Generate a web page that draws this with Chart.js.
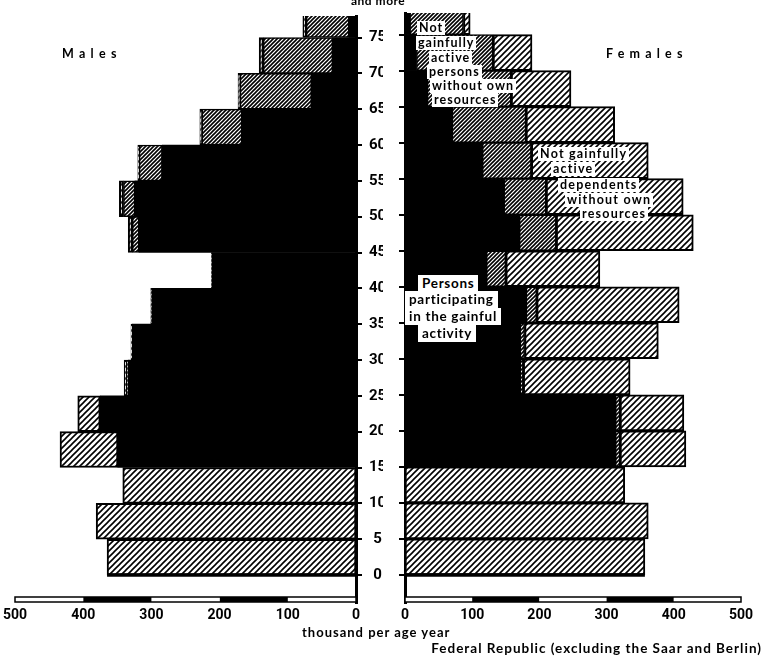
<!DOCTYPE html>
<html>
<head>
<meta charset="utf-8">
<script src="https://cdn.jsdelivr.net/npm/chart.js@4.4.0/dist/chart.umd.min.js"></script>
<style>
body{margin:0;background:#fff;width:766px;height:663px;overflow:hidden;position:relative;
  font-family:Lato,"DejaVu Sans",sans-serif;font-weight:700;color:#000}
#wrapL{position:absolute;left:0;top:0;width:383px;height:663px}
#wrapR{position:absolute;left:383px;top:0;width:383px;height:663px}
.t{position:absolute;white-space:nowrap;line-height:14px}
.w{background:#fff;padding:0 2px}
.a1{font-size:12.5px;letter-spacing:1px}
.a2{font-size:12.5px;letter-spacing:1.2px}
.a3{font-size:13.5px;line-height:17px;letter-spacing:0.7px}
</style>
</head>
<body>
<div id="wrapL"><canvas id="male" width="383" height="663"></canvas></div>
<div id="wrapR"><canvas id="female" width="383" height="663"></canvas></div>

<div class="t" style="left:351px;top:-6px;font-size:12px;letter-spacing:0.5px">and more</div>
<div class="t" style="left:62px;top:47px;font-size:12.5px;letter-spacing:5.3px">Males</div>
<div class="t" style="left:606px;top:47px;font-size:12.5px;letter-spacing:5.2px">Females</div>

<div class="t a1 w" style="left:417px;top:21px">Not</div>
<div class="t a1 w" style="left:416px;top:36px">gainfully</div>
<div class="t a1 w" style="left:429px;top:51px">active</div>
<div class="t a1 w" style="left:427px;top:65px">persons</div>
<div class="t a1 w" style="left:430px;top:79px">without own</div>
<div class="t a1 w" style="left:432px;top:93px">resources</div>

<div class="t a2 w" style="left:538px;top:147px">Not gainfully</div>
<div class="t a2 w" style="left:551px;top:162px">active</div>
<div class="t a2 w" style="left:558px;top:178px">dependents</div>
<div class="t a2 w" style="left:565px;top:193px">without own</div>
<div class="t a2 w" style="left:580px;top:207px">resources</div>

<div class="t a3 w" style="left:418px;top:275px;padding:0 4px">Persons</div>
<div class="t a3 w" style="left:405px;top:291px;padding:0 4px">participating</div>
<div class="t a3 w" style="left:405px;top:308px;padding:0 4px">in the gainful</div>
<div class="t a3 w" style="left:418px;top:325px;padding:0 4px">activity</div>

<div class="t" style="left:302px;top:625px;font-size:13px;letter-spacing:1px">thousand per age year</div>
<div class="t" style="right:4px;top:641px;font-size:13.5px;letter-spacing:1px">Federal Republic (excluding the Saar and Berlin)</div>

<script>
// age groups (5-year groups, values in thousand per age year)
var ageGroups = ['0-4', '5-9', '10-14', '15-19', '20-24', '25-29', '30-34', '35-39',
                 '40-44', '45-49', '50-54', '55-59', '60-64', '65-69', '70-74', '75+'];
var ageMid = [2.5, 7.5, 12.5, 17.5, 22.5, 27.5, 32.5, 37.5, 42.5, 47.5, 52.5, 57.5, 62.5, 67.5, 72.5, 77.5];
var ageTicks = [0, 5, 10, 15, 20, 25, 30, 35, 40, 45, 50, 55, 60, 65, 70, 75];
var valueTicks = [0, 100, 200, 300, 400, 500];

// Males
var maleWorking    = [0, 0, 0, 349, 375, 334, 328, 299, 211, 318, 324, 284, 167, 65, 34, 10];
var maleOwnMeans   = [0, 0, 0, 0, 0, 2, 0, 1, 1, 10, 17, 34, 59, 105, 102, 63];
var maleDependents = [365, 381, 342, 85, 33, 4, 2, 1, 0, 6, 6, 2, 3, 3, 6, 5];

// Females
var femaleWorking    = [0, 0, 0, 313, 313, 171, 171, 180, 121, 170, 147, 115, 70, 33, 17, 7];
var femaleOwnMeans   = [0, 0, 0, 7, 7, 5, 7, 16, 29, 55, 63, 73, 110, 125, 114, 80];
var femaleDependents = [357, 362, 327, 98, 95, 159, 199, 212, 140, 204, 204, 174, 132, 89, 58, 10];

function hatch(size, lw) {
  var c = document.createElement('canvas');
  c.width = size; c.height = size;
  var g = c.getContext('2d');
  g.fillStyle = '#fff';
  g.fillRect(0, 0, size, size);
  g.strokeStyle = '#000';
  g.lineWidth = lw;
  g.beginPath();
  g.moveTo(-1, size + 1); g.lineTo(size + 1, -1);
  g.moveTo(-1, 1); g.lineTo(1, -1);
  g.moveTo(size - 1, size + 1); g.lineTo(size + 1, size - 1);
  g.stroke();
  return g.createPattern(c, 'repeat');
}
var lightHatch = hatch(6, 1.6);
var denseHatch = hatch(4, 1.6);

function layers(work, own, dep) {
  var a = [], b = [], c = [];
  for (var i = 0; i < ageMid.length; i++) {
    var w = work[i], o = w + own[i], d = o + dep[i];
    a.push({ x: [0, w], y: ageMid[i] });
    b.push({ x: [w, o], y: ageMid[i] });
    c.push({ x: [o, d], y: ageMid[i] });
  }
  return [
    { label: 'Persons participating in the gainful activity', data: a,
      backgroundColor: '#000', borderWidth: 0 },
    { label: 'Not gainfully active persons with own resources', data: b,
      backgroundColor: denseHatch, borderColor: '#000', borderWidth: 1.5 },
    { label: 'Not gainfully active dependents without own resources', data: c,
      backgroundColor: lightHatch, borderColor: '#000', borderWidth: 2 }
  ];
}

// checkered scale bar along the bottom, heavy base line under age 0
var scaleBar = {
  id: 'scaleBar',
  afterDraw: function (chart) {
    var ctx = chart.ctx, xs = chart.scales.x, ys = chart.scales.y, area = chart.chartArea;
    var y0 = area.bottom - 6, h = 5;
    ctx.save();
    for (var i = 0; i < valueTicks.length - 1; i++) {
      var p1 = xs.getPixelForValue(valueTicks[i]);
      var p2 = xs.getPixelForValue(valueTicks[i + 1]);
      ctx.fillStyle = (i % 2 === 1) ? '#000' : '#fff';
      ctx.fillRect(Math.min(p1, p2), y0, Math.abs(p2 - p1), h);
    }
    var a = xs.getPixelForValue(0), b = xs.getPixelForValue(500);
    ctx.strokeStyle = '#000';
    ctx.lineWidth = 1.5;
    ctx.strokeRect(Math.min(a, b), y0, Math.abs(b - a), h);

    var first = chart.data.datasets[2].data[0].x[1];
    var e = xs.getPixelForValue(first), yz = ys.getPixelForValue(0);
    ctx.lineWidth = 3.5;
    ctx.beginPath();
    ctx.moveTo(a, yz);
    ctx.lineTo(e, yz);
    ctx.stroke();
    ctx.restore();
  }
};

function makeOptions(side) {
  var left = side === 'male';
  return {
    indexAxis: 'y',
    responsive: false,
    animation: false,
    layout: { padding: { top: 13, left: left ? 15 : 0, right: left ? 0 : 25 } },
    datasets: { bar: { grouped: false, barPercentage: 1, categoryPercentage: 1, borderSkipped: false } },
    plugins: { legend: { display: false }, tooltip: { enabled: false } },
    scales: {
      x: {
        type: 'linear', min: 0, max: 500, reverse: left,
        afterBuildTicks: function (s) { s.ticks = valueTicks.map(function (v) { return { value: v }; }); },
        afterFit: function (s) { s.height = 60; },
        grid: { display: false, drawTicks: false },
        border: { display: false },
        ticks: { padding: 4, color: '#000', maxRotation: 0,
                 font: { family: 'Roboto', weight: 'bold', size: 14 } }
      },
      y: {
        type: 'linear', min: -3.9, max: 78, offset: false,
        position: left ? 'right' : 'left',
        afterBuildTicks: function (s) { s.ticks = ageTicks.map(function (v) { return { value: v }; }); },
        afterFit: function (s) { s.width = left ? 27 : 22; },
        grid: { offset: false, drawOnChartArea: false, drawTicks: true, tickLength: 6, color: '#000', lineWidth: 2 },
        border: { display: true, color: '#000', width: 3 },
        ticks: { display: left, crossAlign: 'center', padding: 7, color: '#000',
                 font: { family: 'Roboto', weight: 'bold', size: 15 } }
      }
    }
  };
}

new Chart(document.getElementById('male'), {
  type: 'bar',
  data: { labels: ageGroups, datasets: layers(maleWorking, maleOwnMeans, maleDependents) },
  options: makeOptions('male'),
  plugins: [scaleBar]
});

new Chart(document.getElementById('female'), {
  type: 'bar',
  data: { labels: ageGroups, datasets: layers(femaleWorking, femaleOwnMeans, femaleDependents) },
  options: makeOptions('female'),
  plugins: [scaleBar]
});
</script>
</body>
</html>
